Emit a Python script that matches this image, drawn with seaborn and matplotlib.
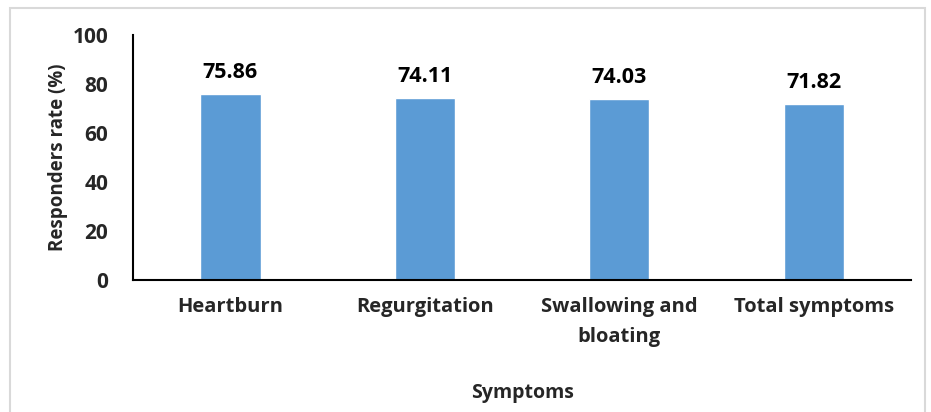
import matplotlib
matplotlib.use('Agg')
import matplotlib.pyplot as plt
import seaborn as sns
import pandas as pd
from matplotlib.patches import Rectangle

# 증상별 반응률 (%)
symptoms = ['Heartburn', 'Regurgitation', 'Swallowing and\nbloating', 'Total symptoms']
rates = [75.86, 74.11, 74.03, 71.82]

df = pd.DataFrame({'Symptoms': symptoms, 'rate': rates})

sns.set_style('white')
plt.rcParams['font.family'] = ['Open Sans', 'DejaVu Sans']

fig = plt.figure(figsize=(9.31, 4.12), dpi=100)
ax = fig.add_axes([0.143, 0.320, 0.8355, 0.595])

sns.barplot(data=df, x='Symptoms', y='rate', color='#5B9BD5', saturation=1,
            width=0.31, ax=ax)

for i, v in enumerate(rates):
    ax.text(i, v + 4.5, f'{v:.2f}', ha='center', va='bottom',
            fontsize=15.5, fontweight='bold', color='black')

ax.set_ylim(0, 100)
ax.set_xlim(-0.5, 3.5)
ax.set_yticks([0, 20, 40, 60, 80, 100])
ax.tick_params(axis='x', length=0, labelsize=14.5, pad=12)
ax.tick_params(axis='y', length=0, labelsize=15, pad=18)
for lab in ax.get_xticklabels() + ax.get_yticklabels():
    lab.set_fontweight('bold')
for lab in ax.get_xticklabels():
    lab.set_linespacing(1.7)

ax.set_xlabel('Symptoms', fontsize=14, fontweight='bold', labelpad=26)
ax.set_ylabel('Responders rate (%)', fontsize=13.5, fontweight='bold', labelpad=3)

sns.despine(ax=ax)
ax.spines['left'].set_color('black')
ax.spines['bottom'].set_color('black')
ax.spines['left'].set_linewidth(1.5)
ax.spines['bottom'].set_linewidth(1.5)

# 차트 테두리
fig.patches.append(Rectangle((10 / 931, -0.1), 915 / 931, 1.1 - 8 / 412,
                             transform=fig.transFigure, fill=False,
                             edgecolor='#d9d9d9', linewidth=1.5))

fig.savefig('out.png', dpi=100)
